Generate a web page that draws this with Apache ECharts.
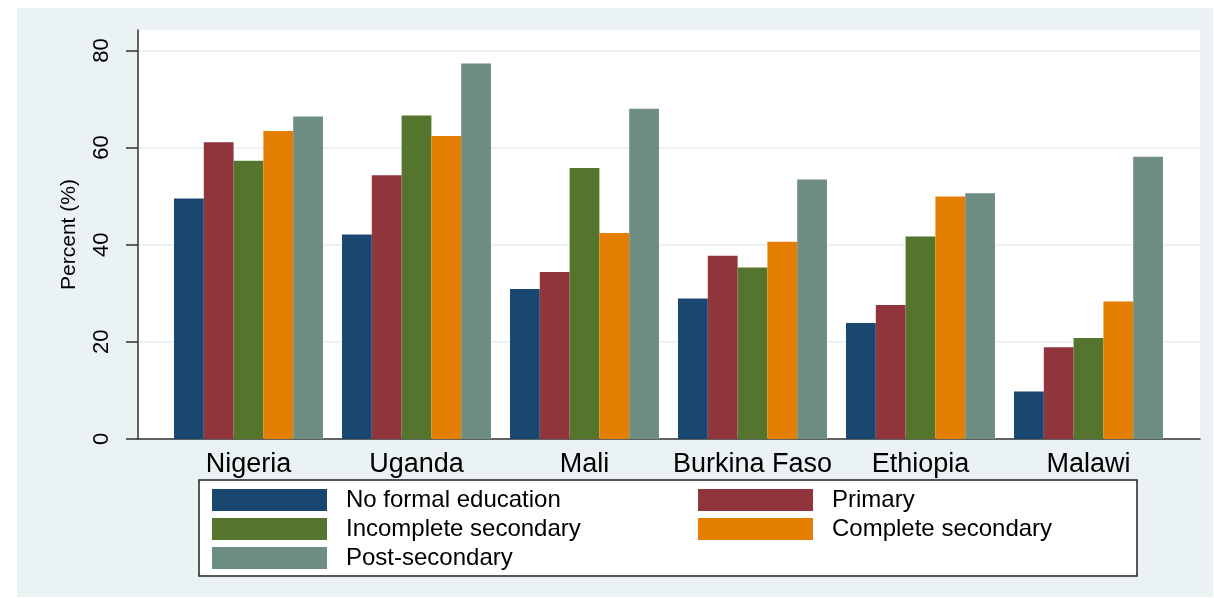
<!DOCTYPE html>
<html><head><meta charset="utf-8">
<script src="https://cdn.jsdelivr.net/npm/echarts@6/dist/echarts.min.js"></script>
<style>
html,body{margin:0;padding:0;background:#fff;}
#bg{position:absolute;left:17px;top:8px;width:1196px;height:589px;background:#EAF2F3;}
#chart{position:absolute;left:0;top:0;width:1214px;height:598px;}
</style></head>
<body>
<div id="bg"></div>
<div id="chart"></div>
<script>
const countries = ['Nigeria','Uganda','Mali','Burkina Faso','Ethiopia','Malawi'];
const noFormal   = [49.5, 42.1, 30.9, 28.9, 23.9, 9.8];
const primary    = [61.1, 54.3, 34.4, 37.7, 27.6, 18.9];
const incSec     = [57.3, 66.6, 55.8, 35.3, 41.7, 20.8];
const compSec    = [63.4, 62.4, 42.4, 40.6, 49.9, 28.3];
const postSec    = [66.4, 77.3, 68.0, 53.4, 50.6, 58.1];
const seriesNames = ['No formal education','Primary','Incomplete secondary','Complete secondary','Post-secondary'];
const legendCol1 = ['No formal education','Incomplete secondary','Post-secondary'];
const legendCol2 = ['Primary','Complete secondary'];
const yTicks = [0, 20, 40, 60, 80];
const yMax = 84.2;

const colors = ['#1A476F','#90353B','#55752F','#E37E00','#6E8E84'];
const font = '"Liberation Sans", Arial, Helvetica, sans-serif';
const chart = echarts.init(document.getElementById('chart'));
const data = [noFormal, primary, incSec, compSec, postSec];

const legendBase = {
  orient: 'vertical', top: 488, padding: 0, itemGap: 5,
  itemWidth: 115, itemHeight: 22, icon: 'rect',
  textStyle: {color: '#000', fontSize: 24, fontFamily: font, padding: [0, 0, 0, 14]}
};

chart.setOption({
  backgroundColor: 'transparent',
  animation: false,
  textStyle: {fontFamily: font},
  graphic: [{
    type: 'rect', z: 1, shape: {x: 199, y: 480, width: 938, height: 96},
    style: {fill: '#fff', stroke: '#222', lineWidth: 1.5}
  }],
  grid: [
    {left: 138, right: 14, top: 30, bottom: 159, show: true, backgroundColor: '#ffffff', borderWidth: 0},
    {left: 164.5, right: 41.5, top: 30, bottom: 159}
  ],
  xAxis: [
    {type: 'value', gridIndex: 0, min: 0, max: 1, position: 'bottom',
     axisLine: {show: true, onZero: false, lineStyle: {color: '#333', width: 1.5}},
     axisTick: {show: false}, axisLabel: {show: false}, splitLine: {show: false}},
    {type: 'category', gridIndex: 1, data: countries,
     axisLine: {show: false}, axisTick: {show: false},
     axisLabel: {color: '#000', fontSize: 27, margin: 12, fontFamily: font, interval: 0}}
  ],
  yAxis: [
    {type: 'value', gridIndex: 0, min: 0, max: yMax,
     name: 'Percent (%)', nameLocation: 'middle', nameGap: 58, nameRotate: 90,
     nameTextStyle: {color: '#000', fontSize: 21, fontFamily: font},
     axisLine: {show: true, onZero: false, lineStyle: {color: '#333', width: 1.5}},
     axisTick: {show: true, length: 12, customValues: yTicks, lineStyle: {color: '#333', width: 1.5}},
     axisLabel: {customValues: yTicks, rotate: 90, color: '#000', fontSize: 22, margin: 25, fontFamily: font},
     splitLine: {show: true, lineStyle: {color: '#EAF2F3', width: 2}}},
    {type: 'value', gridIndex: 1, min: 0, max: yMax, show: false, splitLine: {show: false}}
  ],
  legend: [
    Object.assign({}, legendBase, {left: 212, data: legendCol1}),
    Object.assign({}, legendBase, {left: 698, data: legendCol2})
  ],
  series: seriesNames.map((n, i) => ({
    name: n, type: 'bar', xAxisIndex: 1, yAxisIndex: 1,
    data: data[i], barGap: '0%', barCategoryGap: '11.31%',
    itemStyle: {color: colors[i]}
  }))
});
</script>
</body></html>
